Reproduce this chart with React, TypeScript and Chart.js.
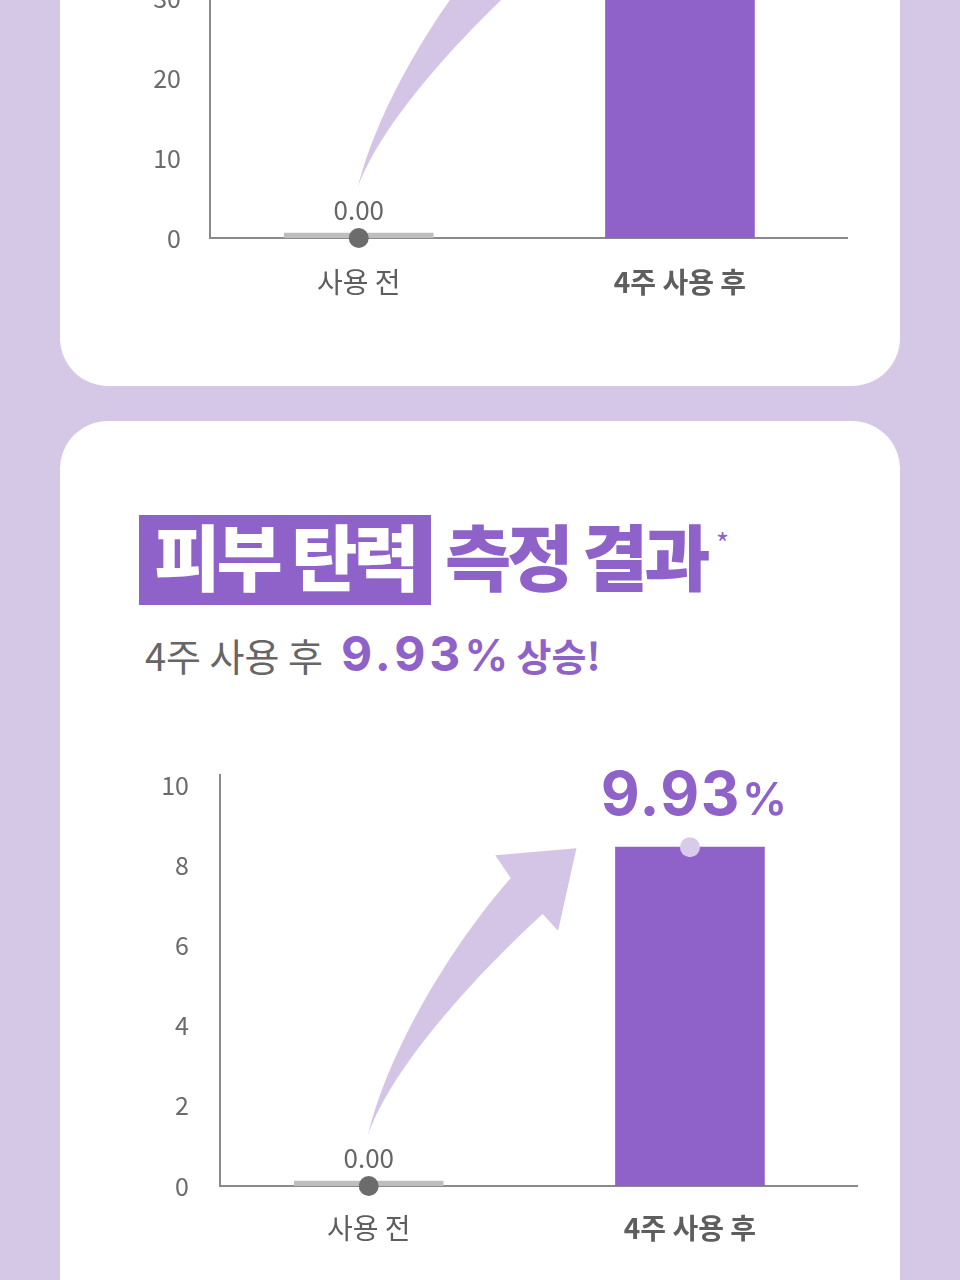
import React, { useEffect, useRef } from 'react';
import { Chart, registerables } from 'chart.js';

Chart.register(...registerables);

// ---------- data ----------
const categories = ['사용 전', '4주 사용 후'];

const topValues = [0, 41.6];
const topLabels = ['0.00', ''];
const topTicks = [0, 10, 20, 30, 40, 50];

const elasticityValues = [0, 8.45];
const elasticityLabels = ['0.00', '9.93%'];
const elasticityTicks = [0, 2, 4, 6, 8, 10];

const titleHighlight = '피부 탄력';
const titleRest = '측정 결과';
const subtitleLead = '4주 사용 후';
const subtitleValue = '9.93';
const subtitleTail = '상승!';

// ---------- styles ----------
const BG = '#D5C7E6';
const PURPLE = '#8E62C9';
const ARROW = '#D4C5E7';
const AXIS = '#8a8a8a';
const BEFORE_BAR = '#BEBEBE';
const DOT_COLORS = ['#6c6c6c', '#D8CBEA'];
const KR = '"Noto Sans CJK KR", "Noto Sans", sans-serif';
const NUM = 'Inter, "Noto Sans", sans-serif';

type ChartProps = {
  values: number[];
  labels: string[];
  ticks: number[];
  yMax: number;
  yWidth: number;
  xHeight: number;
  padTop: number;
  padRight: number;
  yTickPad: number;
  xTickPad: number;
  top: number;
  height: number;
};

function BarChart(p: ChartProps) {
  const ref = useRef<HTMLCanvasElement>(null);
  useEffect(() => {
    const canvas = ref.current!;
    const pts = p.values.map((v, i) => ({ x: i, y: v }));
    const deco = {
      id: 'deco',
      beforeDatasetsDraw(chart: any) {
        const ctx = chart.ctx;
        const xs = chart.scales.x;
        const ys = chart.scales.y;
        const b = chart.getDatasetMeta(0).data[1];
        const { x: bx, y: by, width: bw } = b.getProps(['x', 'y', 'width'], true);
        const T = { x: xs.getPixelForValue(0) - 1, y: ys.getPixelForValue(0) - 50 };
        const P = { x: bx - bw / 2 - 39, y: by + 1 };
        const dx = P.x - T.x;
        const dy = T.y - P.y;
        const pt = (u: number, v: number): [number, number] => [T.x + u * dx, T.y - v * dy];
        ctx.save();
        ctx.beginPath();
        ctx.moveTo(...pt(0, 0));
        ctx.bezierCurveTo(...pt(0.1, 0.3), ...pt(0.4, 0.66), ...pt(0.685, 0.896));
        ctx.lineTo(...pt(0.611, 0.975));
        ctx.lineTo(...pt(1, 1));
        ctx.lineTo(...pt(0.912, 0.713));
        ctx.lineTo(...pt(0.838, 0.771));
        ctx.bezierCurveTo(...pt(0.55, 0.58), ...pt(0.12, 0.25), ...pt(0, 0));
        ctx.closePath();
        ctx.fillStyle = ARROW;
        ctx.fill();
        ctx.restore();
      },
      afterDatasetsDraw(chart: any) {
        const ctx = chart.ctx;
        const dots = chart.getDatasetMeta(1).data;
        p.labels.forEach((txt, i) => {
          if (!txt) return;
          const d = dots[i];
          ctx.save();
          if (txt.endsWith('%')) {
            const main = txt.slice(0, -1);
            const bigFont = `700 60px ${NUM}`;
            const pctFont = `600 45px ${NUM}`;
            ctx.font = bigFont;
            (ctx as any).letterSpacing = '1.5px';
            const w1 = ctx.measureText(main).width;
            ctx.font = pctFont;
            (ctx as any).letterSpacing = '0px';
            const w2 = ctx.measureText('%').width;
            const total = w1 + 1 + w2;
            const left = d.x + 4 - total / 2;
            const base = d.y - 32;
            ctx.fillStyle = PURPLE;
            ctx.textAlign = 'left';
            ctx.textBaseline = 'alphabetic';
            ctx.font = bigFont;
            (ctx as any).letterSpacing = '1.5px';
            ctx.fillText(main, left, base);
            ctx.font = pctFont;
            (ctx as any).letterSpacing = '0px';
            ctx.fillText('%', left + w1 + 1, base);
          } else {
            ctx.font = `400 26px ${KR}`;
            ctx.fillStyle = '#666666';
            ctx.textAlign = 'center';
            ctx.textBaseline = 'middle';
            ctx.fillText(txt, d.x, d.y - 28);
          }
          ctx.restore();
        });
      },
    };

    const chart = new Chart(canvas, {
      type: 'bar',
      data: {
        datasets: [
          {
            type: 'bar',
            data: pts,
            backgroundColor: [BEFORE_BAR, PURPLE],
            barThickness: 149,
            minBarLength: 5,
            order: 2,
          } as any,
          {
            type: 'line',
            data: pts,
            showLine: false,
            pointRadius: 10,
            pointBackgroundColor: DOT_COLORS,
            pointBorderWidth: 0,
            clip: false,
            order: 1,
          } as any,
        ],
      },
      options: {
        responsive: false,
        animation: false,
        layout: { padding: { top: p.padTop, right: p.padRight, left: 0, bottom: 0 } },
        plugins: { legend: { display: false }, tooltip: { enabled: false } },
        scales: {
          x: {
            type: 'linear',
            min: -0.463,
            max: 1.52,
            offset: false,
            afterBuildTicks: (s: any) => {
              s.ticks = categories.map((_, i) => ({ value: i }));
            },
            afterFit: (s: any) => {
              s.height = p.xHeight;
            },
            grid: { display: false, drawTicks: false },
            border: { display: true, color: AXIS, width: 2 },
            ticks: {
              autoSkip: false,
              maxRotation: 0,
              padding: p.xTickPad,
              color: '#5e5e5e',
              callback: (v: any) => categories[v] ?? '',
              font: (c: any) => ({ size: 28, family: KR, weight: c.index === 1 ? 'bold' : 'normal' }),
            },
          },
          y: {
            type: 'linear',
            min: 0,
            max: p.yMax,
            afterBuildTicks: (s: any) => {
              s.ticks = p.ticks.map((v) => ({ value: v }));
            },
            afterFit: (s: any) => {
              s.width = p.yWidth;
            },
            grid: { display: false, drawTicks: false },
            border: { display: true, color: AXIS, width: 2 },
            ticks: {
              padding: p.yTickPad,
              color: '#6a6a6a',
              font: { size: 25, family: KR },
              callback: (v: any) => String(v),
            },
          },
        },
      } as any,
      plugins: [deco],
    });
    return () => chart.destroy();
  }, []);
  return (
    <canvas
      ref={ref}
      width={960}
      height={p.height}
      style={{ position: 'absolute', left: 0, top: p.top, width: 960, height: p.height }}
    />
  );
}

export default function App() {
  return (
    <div
      style={{
        position: 'absolute',
        left: 0,
        top: 0,
        width: 960,
        height: 1280,
        overflow: 'hidden',
        background: BG,
        fontFamily: KR,
      }}
    >
      <div style={{ position: 'absolute', left: 60, top: -100, width: 840, height: 486, background: '#fff', borderRadius: 48 }} />
      <div style={{ position: 'absolute', left: 60, top: 421, width: 840, height: 1000, background: '#fff', borderRadius: 48 }} />

      <BarChart
        values={topValues}
        labels={topLabels}
        ticks={topTicks}
        yMax={50}
        yWidth={210}
        xHeight={62}
        padTop={88}
        padRight={113}
        yTickPad={29}
        xTickPad={28}
        top={-250}
        height={550}
      />

      <div style={{ position: 'absolute', left: 139, top: 515, width: 292, height: 90, background: PURPLE }} />
      <div
        style={{
          position: 'absolute',
          left: 139,
          top: 508,
          width: 292,
          height: 90,
          display: 'flex',
          alignItems: 'center',
          justifyContent: 'center',
          color: '#fff',
          fontSize: 72,
          fontWeight: 900,
          letterSpacing: -4,
          whiteSpace: 'nowrap',
        }}
      >
        {titleHighlight}
      </div>
      <div
        style={{
          position: 'absolute',
          left: 445,
          top: 508,
          height: 90,
          display: 'flex',
          alignItems: 'center',
          color: PURPLE,
          fontSize: 72,
          fontWeight: 900,
          letterSpacing: -4,
          whiteSpace: 'nowrap',
        }}
      >
        {titleRest}
      </div>
      <div style={{ position: 'absolute', left: 716, top: 528, color: PURPLE, fontSize: 28, lineHeight: 1 }}>*</div>

      <div
        style={{
          position: 'absolute',
          left: 145,
          top: 630,
          display: 'flex',
          alignItems: 'baseline',
          whiteSpace: 'nowrap',
          lineHeight: 1,
        }}
      >
        <span style={{ fontSize: 38, color: '#666', letterSpacing: 0 }}>{subtitleLead}</span>
        <span style={{ marginLeft: 18, fontFamily: NUM, fontWeight: 700, fontSize: 48, color: PURPLE, letterSpacing: 4 }}>
          {subtitleValue}
        </span>
        <span style={{ marginLeft: 0, fontFamily: NUM, fontWeight: 600, fontSize: 44, color: PURPLE }}>%</span>
        <span style={{ marginLeft: 8, fontSize: 38, fontWeight: 700, color: PURPLE }}>{subtitleTail}</span>
      </div>

      <BarChart
        values={elasticityValues}
        labels={elasticityLabels}
        ticks={elasticityTicks}
        yMax={10.25}
        yWidth={220}
        xHeight={94}
        padTop={75}
        padRight={103}
        yTickPad={31}
        xTickPad={26}
        top={700}
        height={580}
      />
    </div>
  );
}
